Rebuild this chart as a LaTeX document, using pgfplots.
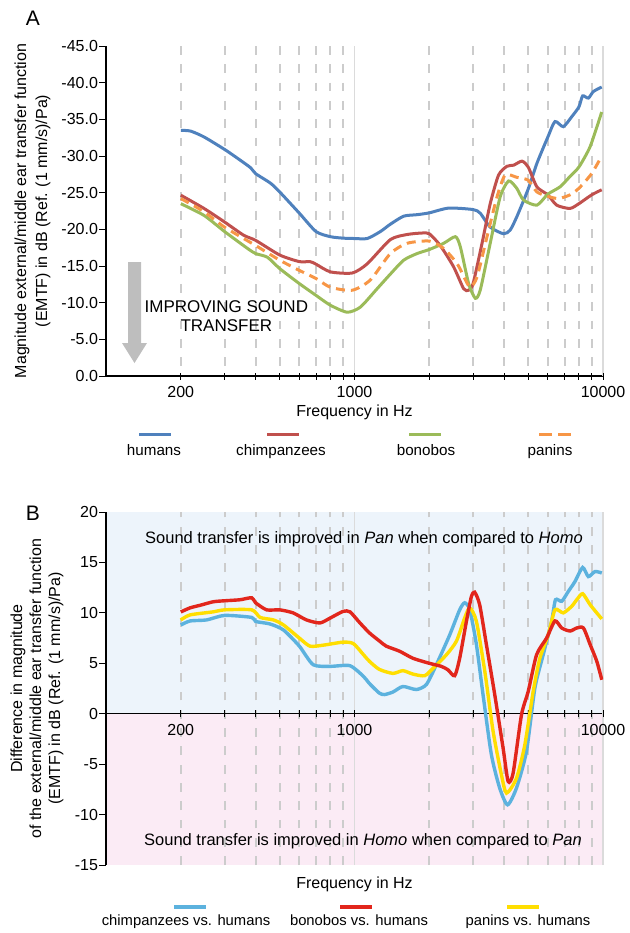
\documentclass[border=0pt]{standalone}
\usepackage{fontspec}
\setmainfont{Liberation Sans}
\usepackage{pgfplots}
\pgfplotsset{compat=1.18}

\definecolor{humans}{RGB}{79,129,189}
\definecolor{chimps}{RGB}{192,80,77}
\definecolor{bonobos}{RGB}{155,187,89}
\definecolor{panins}{RGB}{247,150,70}
\definecolor{cvh}{RGB}{92,178,222}
\definecolor{bvh}{RGB}{226,38,28}
\definecolor{pvh}{RGB}{255,222,0}
\definecolor{panbg}{RGB}{237,244,251}
\definecolor{homobg}{RGB}{251,235,245}
\definecolor{arrowgray}{RGB}{190,190,190}

\newcommand{\lbl}{\fontsize{8}{10}\selectfont}

\pgfplotsset{
  emtf/.style={
    scale only axis, width=248.5pt,
    xmin=100, xmax=10000,
    xtick={200,300,400,500,600,700,800,900,2000,3000,4000,5000,6000,7000,8000,9000},
    xticklabels={200,,,,,,,,,,,,,,,},
    extra x ticks={1000,10000},
    extra x tick labels={1000,10000},
    extra x tick style={major grid style={gray!28, line width=0.8pt, solid}},
    minor xtick={},
    xmajorgrids,
    major grid style={gray!40, line width=1pt, dash pattern=on 4.4pt off 4.75pt},
    xtick align=center, ytick align=outside,
    major tick length=3.5pt,
    tick style={black, line width=0.5pt},
    axis line style={black, line width=0.6pt},
    /pgf/number format/assume math mode=true,
    tick label style={font=\lbl},
    yticklabel style={xshift=3pt},
    label style={font=\lbl},
  },
}

\begin{document}
\begin{tikzpicture}[font=\lbl]
\useasboundingbox (0,0) rectangle (314.5pt,-466.5pt);

% ---------------- panel A ----------------
\node[font=\fontsize{10.5}{12}\selectfont] at (16.5pt,-9pt) {A};

\begin{semilogxaxis}[emtf,
  at={(53pt,-188pt)}, anchor=south west, height=165pt,
  ymin=-45, ymax=0, y dir=reverse,
  axis x line*=bottom, axis y line*=left,
  ytick={-45,-40,-35,-30,-25,-20,-15,-10,-5,0},
  yticklabel style={/pgf/number format/.cd, fixed, fixed zerofill, precision=1},
  xlabel={Frequency in Hz},
  xlabel style={at={(axis description cs:0.5,-0.11)}, anchor=center},
  ylabel={Magnitude external/middle ear transfer function\\(EMTF) in dB (Ref. (1 mm/s)/Pa)},
  ylabel style={align=center, at={(axis description cs:-0.148,0.5)}, anchor=center,
    font=\fontsize{8}{10.5}\selectfont},
]
\addplot[humans, line width=1.5pt, smooth, tension=0.4] coordinates {
(200,-33.5)(219,-33.4)(248,-32.6)(300,-30.9)(338,-29.7)(382,-28.4)(400,-27.6)
(459,-26.3)(500,-25.1)(600,-22.2)(700,-19.7)(800,-19.0)(900,-18.8)(1000,-18.75)
(1125,-18.75)(1271,-19.7)(1394,-20.7)(1578,-21.8)(1786,-22.0)(2000,-22.25)
(2393,-22.9)(3000,-22.7)(3206,-22.2)(3517,-20.3)(3980,-19.4)(4230,-19.9)
(4497,-21.7)(5000,-25.5)(5420,-29.0)(6000,-32.6)(6410,-34.7)(6920,-34.0)
(7480,-35.35)(8000,-36.7)(8280,-38.2)(8730,-37.9)(9150,-38.8)(9880,-39.4)};
\addplot[chimps, line width=1.5pt, smooth, tension=0.4] coordinates {
(200,-24.66)(248,-22.85)(300,-21.0)(358,-19.2)(400,-18.5)(500,-16.5)(600,-15.6)
(662,-15.6)(700,-15.25)(800,-14.2)(980,-14.05)(1125,-15.3)(1394,-18.6)(1630,-19.3)
(1870,-19.5)(2000,-19.4)(2213,-17.8)(2504,-14.9)(2750,-11.9)(2880,-11.7)
(3000,-12.6)(3260,-18.1)(3517,-23.5)(3800,-27.4)(4105,-28.6)(4367,-28.75)
(4720,-29.3)(5000,-28.5)(5420,-25.8)(6000,-24.7)(6510,-23.3)(7360,-22.85)
(8000,-23.5)(9000,-24.7)(9880,-25.4)};
\addplot[bonobos, line width=1.5pt, smooth, tension=0.4] coordinates {
(200,-23.5)(248,-21.9)(300,-19.7)(371,-17.4)(400,-16.7)(446,-16.2)(500,-14.65)
(600,-12.6)(700,-11.0)(800,-9.65)(935,-8.7)(1056,-9.4)(1233,-11.9)(1394,-13.9)
(1578,-15.8)(1786,-16.7)(2000,-17.25)(2285,-18.1)(2546,-19.0)(2667,-17.6)
(2880,-12.6)(3063,-10.6)(3206,-11.7)(3517,-18.1)(3855,-24.4)(4170,-26.6)
(4497,-25.6)(4786,-24.0)(5420,-23.3)(6000,-24.8)(6720,-25.8)(7360,-27.2)
(8000,-28.5)(8880,-31.3)(9880,-36.0)};
\addplot[panins, line width=1.5pt, smooth, tension=0.4, dash pattern=on 4.5pt off 3pt] coordinates {
(200,-24.2)(248,-22.4)(300,-20.3)(400,-17.8)(500,-15.8)(600,-14.4)(700,-13.3)
(800,-12.1)(980,-11.7)(1159,-13.1)(1394,-16.7)(1630,-18.1)(2000,-18.4)
(2285,-17.4)(2590,-15.3)(2795,-13.1)(2925,-12.1)(3113,-13.5)(3414,-19.0)
(3744,-24.4)(4036,-27.4)(4497,-27.1)(5000,-26.7)(5420,-25.1)(6000,-24.5)
(6620,-24.2)(7360,-24.7)(8000,-25.6)(9000,-27.6)(9880,-30.0)};
\node[align=center, font=\fontsize{8.5}{9.3}\selectfont] at (axis cs:305,-8.15)
  {IMPROVING SOUND\\TRANSFER};
\end{semilogxaxis}

% grey arrow
\fill[arrowgray] (64pt,-131pt) -- (70.5pt,-131pt) -- (70.5pt,-171.5pt) -- (73.5pt,-171.5pt)
  -- (67.25pt,-181.5pt) -- (61pt,-171.5pt) -- (64pt,-171.5pt) -- cycle;

% legend A
\begin{scope}[font=\fontsize{7.6}{9}\selectfont]
\draw[humans, line width=1.5pt] (69.5pt,-217pt) -- (85.5pt,-217pt);
\draw[chimps, line width=1.5pt] (133.5pt,-217pt) -- (149.5pt,-217pt);
\draw[bonobos, line width=1.5pt] (204.5pt,-217pt) -- (220.5pt,-217pt);
\draw[panins, line width=1.5pt, dash pattern=on 6.5pt off 3pt] (269.5pt,-217pt) -- (285.5pt,-217pt);
\node[anchor=base] at (77pt,-227.5pt) {humans};
\node[anchor=base] at (140.5pt,-227.5pt) {chimpanzees};
\node[anchor=base] at (213pt,-227.5pt) {bonobos};
\node[anchor=base] at (275pt,-227.5pt) {panins};
\end{scope}

% ---------------- panel B ----------------
\node[font=\fontsize{10.5}{12}\selectfont] at (16.5pt,-256.5pt) {B};
\fill[panbg] (53pt,-256pt) rectangle (301.5pt,-357pt);
\fill[homobg] (53pt,-357pt) rectangle (301.5pt,-432.5pt);

\begin{semilogxaxis}[emtf,
  at={(53pt,-432.5pt)}, anchor=south west, height=176.5pt,
  ymin=-15, ymax=20,
  axis x line*=middle, axis y line*=left,
  ytick={-15,-10,-5,0,5,10,15,20},
  xlabel={Frequency in Hz},
  xlabel style={at={(axis description cs:0.5,-0.055)}, anchor=center},
  ylabel={Difference in magnitude\\of the external/middle ear transfer function\\(EMTF) in dB (Ref. (1 mm/s)/Pa)},
  ylabel style={align=center, at={(axis description cs:-0.139,0.5)}, anchor=center,
    font=\fontsize{8}{9.5}\selectfont},
]
\addplot[cvh, line width=1.7pt, smooth, tension=0.4] coordinates {
(200,8.8)(218,9.2)(254,9.3)(300,9.75)(386,9.55)(400,9.15)(457,8.9)(518,8.3)
(600,6.7)(682,4.86)(800,4.7)(959,4.76)(1087,3.7)(1148,3.0)(1258,2.05)(1320,1.9)
(1427,2.15)(1566,2.7)(1774,2.4)(1947,2.9)(2135,4.86)(2415,7.8)(2650,10.3)
(2776,11.0)(2910,10.3)(3095,6.85)(3290,1.9)(3556,-4.07)(3840,-7.37)(4130,-9.03)
(4485,-7.37)(4920,-3.74)(5320,2.55)(5746,5.85)(6210,9.15)(6440,11.3)(6820,11.15)
(7240,12.1)(7710,13.1)(8280,14.5)(8730,13.6)(9290,14.1)(9890,13.95)};
\addplot[pvh, line width=1.7pt, smooth, tension=0.4] coordinates {
(200,9.3)(218,9.8)(270,10.1)(300,10.3)(386,10.3)(417,9.55)(472,9.3)(518,8.8)
(600,7.5)(662,6.7)(750,6.8)(900,7.1)(990,6.95)(1087,5.85)(1148,5.2)(1258,4.4)
(1427,4.0)(1566,4.27)(1718,3.93)(1915,3.77)(2070,4.5)(2344,5.85)(2572,7.2)
(2776,9.5)(2910,10.5)(3095,9.15)(3345,4.2)(3613,-1.75)(3902,-6.05)(4090,-7.87)
(4485,-6.4)(4845,-3.1)(5236,2.2)(5570,5.5)(6015,7.8)(6410,10.3)(6920,10.0)
(7480,10.65)(7840,11.3)(8280,11.9)(8880,10.8)(9890,9.4)};
\addplot[bvh, line width=1.7pt, smooth, tension=0.4] coordinates {
(200,10.09)(218,10.5)(239,10.75)(270,11.1)(300,11.2)(346,11.3)(386,11.5)(400,11.0)
(443,10.3)(500,10.3)(566,10.0)(641,9.3)(726,9.0)(800,9.5)(900,10.15)(959,10.1)
(1052,9.0)(1150,8.0)(1262,7.2)(1342,6.7)(1518,6.2)(1718,5.5)(2000,5.0)(2234,4.7)
(2376,4.36)(2530,3.77)(2650,5.5)(2820,9.15)(2953,11.6)(3045,12.05)(3190,10.8)
(3395,6.85)(3667,1.9)(3963,-3.4)(4151,-6.7)(4347,-5.9)(4699,-0.1)(5000,2.2)
(5405,5.85)(5930,7.5)(6410,9.2)(6820,8.5)(7370,8.2)(7840,8.5)(8340,8.5)
(8880,6.85)(9440,5.2)(9890,3.37)};
\node[font=\fontsize{8.25}{10}\selectfont] at (rel axis cs:0.519,0.9217)
  {Sound transfer is improved in \textit{Pan} when compared to \textit{Homo}};
\node[font=\fontsize{8.25}{10}\selectfont] at (rel axis cs:0.517,0.0686)
  {Sound transfer is improved in \textit{Homo} when compared to \textit{Pan}};
\end{semilogxaxis}

% legend B
\begin{scope}[font=\fontsize{7.4}{9}\selectfont]
\draw[cvh, line width=1.7pt] (87pt,-453.5pt) -- (103pt,-453.5pt);
\draw[bvh, line width=1.7pt] (170pt,-453.5pt) -- (186pt,-453.5pt);
\draw[pvh, line width=1.7pt] (253.5pt,-453.5pt) -- (269.5pt,-453.5pt);
\node[anchor=base] at (93pt,-462.5pt) {chimpanzees vs. humans};
\node[anchor=base] at (179.5pt,-462.5pt) {bonobos vs. humans};
\node[anchor=base] at (264pt,-462.5pt) {panins vs. humans};
\end{scope}
\end{tikzpicture}
\end{document}
